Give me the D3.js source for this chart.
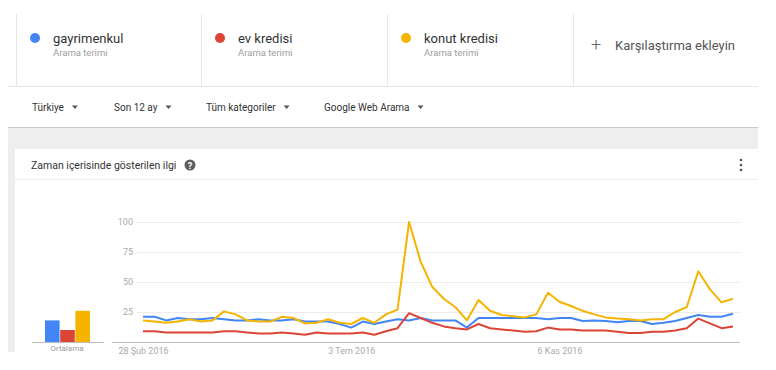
<!DOCTYPE html>
<html>
<head>
<meta charset="utf-8">
<script src="https://cdn.jsdelivr.net/npm/d3@7"></script>
<style>
  body { margin: 0; background: #fff; font-family: Roboto, "Noto Sans", sans-serif; }
  svg text { font-family: Roboto, "Noto Sans", sans-serif; }
</style>
</head>
<body>
<script>
// search terms and their colours
let terms = ['gayrimenkul', 'ev kredisi', 'konut kredisi'];
let colors = ['#4285f4', '#db4437', '#f4b400'];

// weekly values, 28 Feb 2016 .. 19 Feb 2017
let gayrimenkul = [21, 21, 18, 20, 19, 19, 20, 19, 18, 18, 19, 18, 18, 19, 17, 17, 17, 15, 12, 17, 15, 17, 19, 18, 20, 18,
  18, 18, 12, 20, 20, 20, 20, 20, 20, 19, 20, 20, 17.5, 18, 17.5, 16.5, 17.5, 17.5, 15, 16, 17.5, 20, 22.5, 21, 21, 23.5];
let evKredisi = [9, 9, 8, 8, 8, 8, 8, 9, 9, 8, 7, 7, 8, 7, 6, 8, 7, 7, 7, 8, 6, 9, 11.5, 24, 20, 16,
  13, 11.5, 10.5, 15, 11.5, 10.5, 9.5, 8.5, 9, 12, 10.5, 10.5, 9.5, 9.5, 9.5, 8.5, 7.5, 7.5, 8.5, 8.5, 9.5, 11.5, 19.5, 15.5, 11.5, 13];
let konutKredisi = [18, 17, 16, 17, 19, 17, 18, 25.5, 23, 18, 17, 17, 21, 20, 15.5, 16, 19, 16, 15, 20, 16, 23, 27, 100, 67, 46,
  36, 29, 18, 35, 26, 22.5, 21.5, 20.5, 23, 41, 33.5, 30, 26, 23, 20.5, 19.5, 19, 18, 19, 19, 25, 29, 59, 44, 33, 36];
let series = [gayrimenkul, evKredisi, konutKredisi];

// averages shown in the small bar chart
let averages = [18, 10, 26];

// filters and tick labels
let filters = ['Türkiye', 'Son 12 ay', 'Tüm kategoriler', 'Google Web Arama'];
let yTicks = [25, 50, 75, 100];
let xTickDates = ['2016-02-28', '2016-07-03', '2016-11-06'];
let xTickLabels = ['28 Şub 2016', '3 Tem 2016', '6 Kas 2016'];

let width = 776, height = 370;
let parseDate = d3.timeParse('%Y-%m-%d');
let start = parseDate('2016-02-28');
let dates = gayrimenkul.map(function (d, i) { return d3.timeWeek.offset(start, i); });

let svg = d3.select('body').append('svg')
  .attr('width', width).attr('height', height);

// ---------- page frame ----------
svg.append('rect').attr('x', 8).attr('y', 128).attr('width', 750).attr('height', 224).attr('fill', '#eeeeee');
svg.append('rect').attr('x', 15).attr('y', 149).attr('width', 743).attr('height', 221).attr('fill', '#fff');
svg.append('line').attr('x1', 8).attr('x2', 758).attr('y1', 86.5).attr('y2', 86.5).attr('stroke', '#e8e8e8');
svg.append('line').attr('x1', 8).attr('x2', 758).attr('y1', 127.5).attr('y2', 127.5).attr('stroke', '#c8c8c8');
svg.append('line').attr('x1', 15).attr('x2', 758).attr('y1', 179.5).attr('y2', 179.5).attr('stroke', '#eeeeee');

// header cards
let cardX = [16, 201, 387, 573];
cardX.forEach(function (x) {
  svg.append('line').attr('x1', x + 0.5).attr('x2', x + 0.5).attr('y1', 14).attr('y2', 86)
    .attr('stroke', '#e8e8e8');
});
terms.forEach(function (t, i) {
  let g = svg.append('g').attr('transform', 'translate(' + cardX[i] + ',0)');
  g.append('circle').attr('cx', 19).attr('cy', 38).attr('r', 5).attr('fill', colors[i]);
  g.append('text').attr('x', 37).attr('y', 43).attr('font-size', 13).attr('fill', '#333').text(t);
  g.append('text').attr('x', 37).attr('y', 56).attr('font-size', 9.5).attr('fill', '#9e9e9e').text('Arama terimi');
});
svg.append('text').attr('x', 591).attr('y', 51).attr('font-size', 18).attr('font-weight', 300)
  .attr('fill', '#666').text('+');
svg.append('text').attr('x', 615).attr('y', 50).attr('font-size', 13).attr('fill', '#555')
  .text('Karşılaştırma ekleyin');

// filter bar
let filterX = [32, 114, 206, 324];
filters.forEach(function (f, i) {
  let t = svg.append('text').attr('x', filterX[i]).attr('y', 110.5).attr('font-size', 10)
    .attr('fill', '#333').text(f);
  let w = t.node().getComputedTextLength();
  let ax = filterX[i] + w + 8;
  svg.append('path').attr('d', 'M' + ax + ',105.5 l6,0 l-3,3.5 z').attr('fill', '#555');
});

// card title
svg.append('text').attr('x', 31).attr('y', 168.5).attr('font-size', 10.5).attr('fill', '#333')
  .text('Zaman içerisinde gösterilen ilgi');
svg.append('circle').attr('cx', 190).attr('cy', 165).attr('r', 5.5).attr('fill', '#5f5f5f');
svg.append('text').attr('x', 190).attr('y', 168.5).attr('text-anchor', 'middle').attr('font-size', 9)
  .attr('font-weight', 700).attr('fill', '#fff').text('?');
[160, 165, 170].forEach(function (cy) {
  svg.append('circle').attr('cx', 741).attr('cy', cy).attr('r', 1.3).attr('fill', '#555');
});

// ---------- chart ----------
let x = d3.scaleTime().domain(d3.extent(dates)).range([143, 733]);
let y = d3.scaleLinear().domain([0, 100]).range([342, 222]);

let yAxis = d3.axisLeft(y).tickValues(yTicks).tickSize(-(740 - 137)).tickPadding(4);
let yg = svg.append('g').attr('transform', 'translate(137,0)').call(yAxis);
yg.select('.domain').remove();
yg.selectAll('.tick line').attr('stroke', '#ececec');
yg.selectAll('.tick text').attr('fill', '#aaa').attr('font-size', 9);

let xAxis = d3.axisBottom(x)
  .tickValues(xTickDates.map(parseDate))
  .tickFormat(function (d, i) { return xTickLabels[i]; })
  .tickSize(0).tickPadding(6);
let xg = svg.append('g').attr('transform', 'translate(0,' + y(0) + ')').call(xAxis);
xg.select('.domain').remove();
xg.selectAll('.tick text').attr('fill', '#aaa').attr('font-size', 9);
svg.append('line').attr('x1', 112).attr('x2', 740).attr('y1', y(0) + 0.5).attr('y2', y(0) + 0.5)
  .attr('stroke', '#bdbdbd');

let line = d3.line()
  .x(function (d, i) { return x(dates[i]); })
  .y(function (d) { return y(d); });

series.forEach(function (s, i) {
  svg.append('path').attr('d', line(s)).attr('fill', 'none')
    .attr('stroke', colors[i]).attr('stroke-width', 2).attr('stroke-linejoin', 'round');
});

// ---------- averages ----------
let xb = d3.scaleBand().domain(terms).range([45, 90]).paddingInner(0.04);
svg.append('line').attr('x1', 32).attr('x2', 104).attr('y1', y(0) + 0.5).attr('y2', y(0) + 0.5)
  .attr('stroke', '#bdbdbd');
svg.selectAll('.avg').data(averages).enter().append('rect')
  .attr('class', 'avg')
  .attr('x', function (d, i) { return xb(terms[i]); })
  .attr('width', xb.bandwidth())
  .attr('y', function (d) { return y(d); })
  .attr('height', function (d) { return y(0) - y(d); })
  .attr('fill', function (d, i) { return colors[i]; });
svg.append('text').attr('x', 67).attr('y', 351).attr('text-anchor', 'middle')
  .attr('font-size', 8).attr('fill', '#999').text('Ortalama');
</script>
</body>
</html>
